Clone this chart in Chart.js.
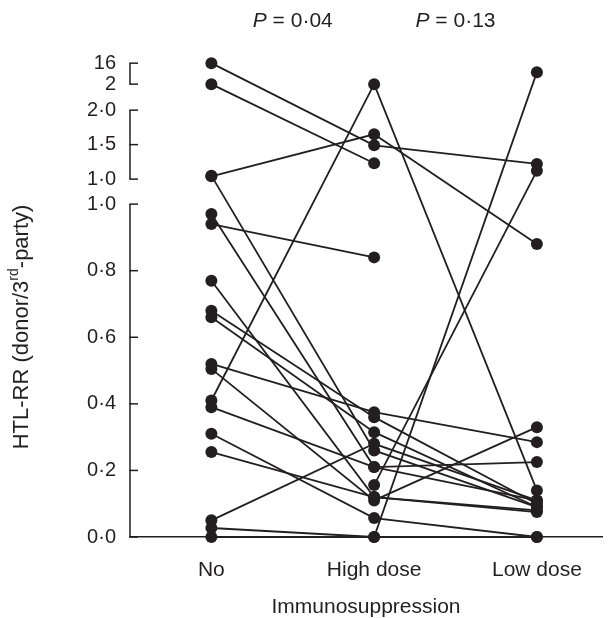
<!DOCTYPE html>
<html>
<head>
<meta charset="utf-8">
<script src="https://cdn.jsdelivr.net/npm/chart.js@4"></script>
<style>
  html, body { margin: 0; padding: 0; background: #fff; }
  #wrap { width: 608px; height: 618px; }
</style>
</head>
<body>
<div id="wrap"><canvas id="chart" width="608" height="618"></canvas></div>
<script>
// Data (one entry per patient)
const categories = ['No', 'High dose', 'Low dose'];
const noIS      = [16, 2, 1.04, 1.05, 0.97, 0.94, 0.77, 0.68, 0.66, 0.52, 0.505, 0.41, 0.39, 0.31, 0.255, 0.05, 0.027, 0, null];
const highDose  = [1.49, 1.23, 1.65, 0.26, 0.21, 0.84, 0.12, 0.36, 0.315, 0.375, 0.11, 2, 0.21, 0.057, 0.12, 0.28, 0, 0, 0.156];
const lowDose   = [1.22, null, 0.88, 0.09, 0.225, null, 0.08, 0.10, 0.09, 0.285, 0.33, 0.14, 0.11, 0, 0.075, 0.11, 10, 0, 1.12];

// broken y axis: three pieces
const yTicksLower  = [0, 0.2, 0.4, 0.6, 0.8, 1.0];
const yTicksMiddle = [1.0, 1.5, 2.0];
const yTicksTop    = [2, 16];
const pValues = ['0·04', '0·13'];

const ink = '#231f20';
const fontFamily = '"Liberation Sans", Arial, Helvetica, sans-serif';

// internal axis units for each piece
const seg = {
    lower:  { from: 0, to: 1, u0: 0, u1: 1 },
    middle: { from: 1, to: 2, u0: 1.0751, u1: 1.2823 },
    top:    { from: 2, to: 16, u0: 1.3604, u1: 1.4234 }
};

function mapSeg(v, s) {
    return s.u0 + (v - s.from) / (s.to - s.from) * (s.u1 - s.u0);
}

function toAxis(v) {
    if (v === null) return null;
    if (v <= 1) return mapSeg(v, seg.lower);
    if (v < 2) return mapSeg(v, seg.middle);
    return mapSeg(v, seg.top);
}

const tickPos = [], tickLabels = [];
yTicksLower.forEach(v => { tickPos.push(mapSeg(v, seg.lower)); tickLabels.push(v.toFixed(1).replace('.', '·')); });
yTicksMiddle.forEach(v => { tickPos.push(mapSeg(v, seg.middle)); tickLabels.push(v.toFixed(1).replace('.', '·')); });
yTicksTop.forEach(v => { tickPos.push(mapSeg(v, seg.top)); tickLabels.push(String(v)); });

const datasets = noIS.map((v, i) => ({
    data: [
        { x: 0, y: toAxis(v) },
        { x: 1, y: toAxis(highDose[i]) },
        { x: 2, y: toAxis(lowDose[i]) }
    ],
    borderColor: ink,
    backgroundColor: ink,
    borderWidth: 1.8,
    pointRadius: 6,
    pointHoverRadius: 6,
    pointBorderWidth: 0,
    spanGaps: false,
    clip: false
}));

// segmented y axis, inward ticks, y title and P labels
const decorations = {
    id: 'decorations',
    afterDraw(chart) {
        const ctx = chart.ctx;
        const y = chart.scales.y, x = chart.scales.x;
        const ax = chart.chartArea.left;
        ctx.save();
        ctx.strokeStyle = ink;
        ctx.lineWidth = 1.5;
        Object.values(seg).forEach(s => {
            ctx.beginPath();
            ctx.moveTo(ax, y.getPixelForValue(s.u0));
            ctx.lineTo(ax, y.getPixelForValue(s.u1));
            ctx.stroke();
        });
        tickPos.forEach(u => {
            const py = y.getPixelForValue(u);
            ctx.beginPath();
            ctx.moveTo(ax - 0.75, py);
            ctx.lineTo(ax + 8, py);
            ctx.stroke();
        });

        // y title with superscript
        ctx.fillStyle = ink;
        ctx.translate(22, 327);
        ctx.rotate(-Math.PI / 2);
        const big = '22px ' + fontFamily, small = '14px ' + fontFamily;
        const parts = [['HTL-RR (donor/3', big, 0], ['rd', small, -8], ['-party)', big, 0]];
        let total = 0;
        parts.forEach(p => { ctx.font = p[1]; total += ctx.measureText(p[0]).width; });
        let cx = -total / 2;
        ctx.textBaseline = 'middle';
        parts.forEach(p => {
            ctx.font = p[1];
            ctx.fillText(p[0], cx, p[2]);
            cx += ctx.measureText(p[0]).width;
        });
        ctx.setTransform(1, 0, 0, 1, 0, 0);

        // P values between columns
        ctx.textBaseline = 'middle';
        pValues.forEach((pv, i) => {
            const px = x.getPixelForValue(i + 0.5);
            const head = 'P', tail = ' = ' + pv;
            ctx.font = 'italic 21px ' + fontFamily;
            const w1 = ctx.measureText(head).width;
            ctx.font = '21px ' + fontFamily;
            const w2 = ctx.measureText(tail).width;
            const start = px - (w1 + w2) / 2;
            ctx.font = 'italic 21px ' + fontFamily;
            ctx.fillText(head, start, 21);
            ctx.font = '21px ' + fontFamily;
            ctx.fillText(tail, start + w1, 21);
        });
        ctx.restore();
    }
};

new Chart(document.getElementById('chart'), {
    type: 'line',
    data: { datasets: datasets },
    plugins: [decorations],
    options: {
        responsive: false,
        animation: false,
        layout: { padding: { top: 41, right: 5, left: 0, bottom: 0 } },
        plugins: { legend: { display: false }, tooltip: { enabled: false } },
        scales: {
            x: {
                type: 'linear',
                min: -0.5,
                max: 2.4,
                afterBuildTicks: (scale) => { scale.ticks = [0, 1, 2].map(v => ({ value: v })); },
                afterFit: (scale) => { scale.height = 81; },
                grid: { display: false },
                border: { display: true, color: ink, width: 1.5 },
                ticks: {
                    autoSkip: false,
                    maxRotation: 0,
                    padding: 13,
                    color: ink,
                    font: { family: fontFamily, size: 21 },
                    callback: (value) => categories[value]
                },
                title: {
                    display: true,
                    text: 'Immunosuppression',
                    color: ink,
                    font: { family: fontFamily, size: 21, lineHeight: 1 },
                    padding: { top: 0, bottom: 0 }
                }
            },
            y: {
                type: 'linear',
                min: 0,
                max: 1.49,
                afterBuildTicks: (scale) => { scale.ticks = tickPos.map(u => ({ value: u })); },
                afterFit: (scale) => { scale.width = 130; },
                grid: { display: false },
                border: { display: false },
                ticks: {
                    autoSkip: false,
                    padding: 6,
                    color: ink,
                    font: { family: fontFamily, size: 20 },
                    callback: (value, index) => tickLabels[index]
                }
            }
        }
    }
});
</script>
</body>
</html>
